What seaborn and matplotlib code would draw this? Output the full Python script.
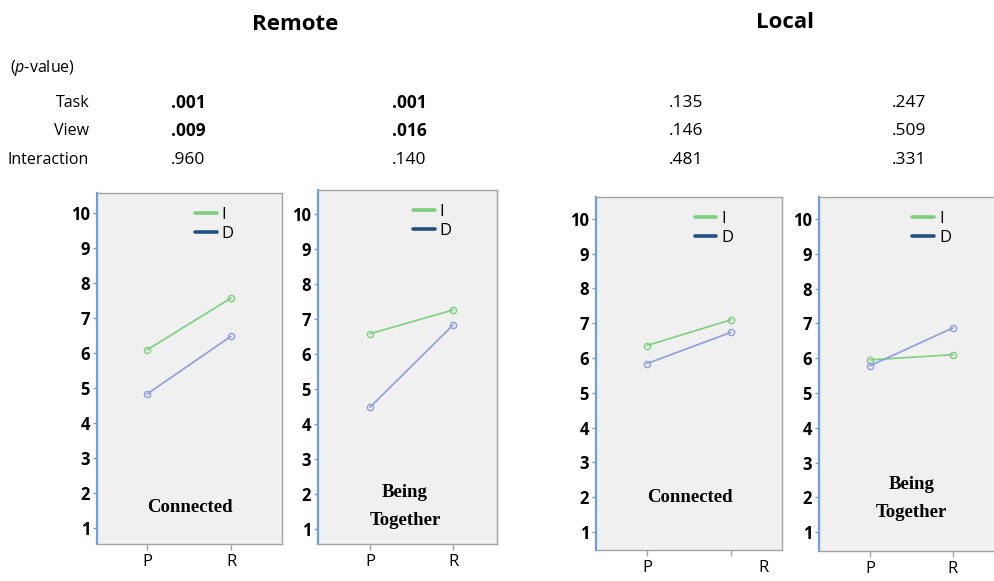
import pandas as pd
import numpy as np
import matplotlib
matplotlib.use("Agg")
import matplotlib.pyplot as plt
import matplotlib.transforms as mtransforms
from matplotlib.lines import Line2D
import seaborn as sns

sns.set_theme(style="white")
plt.rcParams['font.family'] = ['Open Sans', 'DejaVu Sans']
plt.rcParams['text.color'] = 'black'
plt.rcParams['xtick.labelcolor'] = 'black'
plt.rcParams['ytick.labelcolor'] = 'black'
plt.rcParams['mathtext.fontset'] = 'custom'
plt.rcParams['mathtext.rm'] = 'Open Sans'
plt.rcParams['mathtext.it'] = 'Open Sans:italic'

# ===================== data =====================
conditions = ['Remote', 'Local']
panel_labels = ['Connected', 'Being\nTogether', 'Connected', 'Being\nTogether']
views = ['P', 'R']
groups = ['I', 'D']
score_I = [[6.08, 7.56], [6.58, 7.26], [6.36, 7.10], [5.95, 6.10]]
score_D = [[4.82, 6.47], [4.48, 6.83], [5.84, 6.74], [5.78, 6.87]]

row_names = ['Task', 'View', 'Interaction']
p_task = ['.001', '.001', '.135', '.247']
p_view = ['.009', '.016', '.146', '.509']
p_inter = ['.960', '.140', '.481', '.331']

# ===================== style =====================
W, H = 995, 581
green = '#7ccf7c'
lavender = '#8c9fda'
navy = '#24507f'
face = '#f0f0f0'
frame = '#a3a3a3'
spine_blue = '#6f9fd8'

# axes boxes in pixels: x0, x1, ytop, ybottom
boxes = [(97, 282, 193, 544), (318, 497, 190, 544),
         (596, 782, 197, 550), (819, 995, 197, 551)]
ylims = [(0.54, 10.56), (0.57, 10.69), (0.48, 10.63), (0.46, 10.63)]
xlims = [(-0.595, 1.607), (-0.627, 1.53), (-0.607, 1.607), (-0.614, 1.506)]
label_pos = [(0.503, 0.105), (0.486, 0.105), (0.505, 0.150), (0.528, 0.147)]
col_x = [188, 409, 686, 909]

fig = plt.figure(figsize=(W / 100, H / 100), dpi=100)

for i in range(4):
    x0, x1, yt, yb = boxes[i]
    ax = fig.add_axes([x0 / W, 1 - yb / H, (x1 - x0) / W, (yb - yt) / H])
    df = pd.DataFrame({
        'view': views * 2,
        'score': score_I[i] + score_D[i],
        'group': [groups[0]] * 2 + [groups[1]] * 2,
    })
    sns.lineplot(data=df, x='view', y='score', hue='group',
                 palette={'I': green, 'D': lavender}, marker='o',
                 markersize=4.5, linewidth=1.2, legend=False, ax=ax)
    for ln in ax.lines:
        ln.set_markerfacecolor('none')
        ln.set_markeredgecolor(ln.get_color())
        ln.set_markeredgewidth(1.0)

    ax.set_facecolor(face)
    ax.set_xlim(*xlims[i])
    ax.set_ylim(*ylims[i])
    ax.set_yticks(range(1, 11))
    ax.set_xlabel('')
    ax.set_ylabel('')
    for s in ['top', 'right', 'bottom']:
        ax.spines[s].set_color(frame)
        ax.spines[s].set_linewidth(1.0)
    ax.spines['left'].set_color(spine_blue)
    ax.spines['left'].set_linewidth(1.6)
    if i == 3:
        ax.spines['right'].set_visible(False)

    ax.tick_params(axis='y', left=True, direction='out', length=3, width=1,
                   color=spine_blue, labelsize=12, pad=2)
    ax.tick_params(axis='x', bottom=True, direction='out', length=4, width=1,
                   color=frame, labelsize=12, pad=3)
    for lab in ax.get_yticklabels():
        lab.set_fontweight('bold')
    # the R label of the local/connected panel sits off its tick
    if i == 2:
        lab = ax.get_xticklabels()[1]
        lab.set_transform(lab.get_transform() + mtransforms.ScaledTranslation(
            0.32, 0, fig.dpi_scale_trans))

    handles = [Line2D([], [], color=green, lw=2.6),
               Line2D([], [], color=navy, lw=2.6)]
    ax.legend(handles=handles, labels=groups, loc='upper left',
              bbox_to_anchor=(0.53, 0.96), frameon=False, fontsize=12,
              handlelength=1.3, handletextpad=0.3, labelspacing=0.15,
              borderpad=0, borderaxespad=0)

    ax.text(label_pos[i][0], label_pos[i][1], panel_labels[i],
            transform=ax.transAxes, ha='center', va='center',
            family='Liberation Serif', fontweight='bold', fontsize=13.5,
            linespacing=1.85)

# ===================== header / p-value table =====================
fig.text(295 / W, 1 - 25 / H, conditions[0], ha='center', va='center',
         fontsize=16, fontweight='bold')
fig.text(785 / W, 1 - 22 / H, conditions[1], ha='center', va='center',
         fontsize=16, fontweight='bold')
fig.text(10 / W, 1 - 68 / H, '($\\it{p}$-value)', ha='left', va='center',
         fontsize=11.5)

rows_y = [103, 131, 160]
p_rows = [p_task, p_view, p_inter]
for r in range(3):
    fig.text(89 / W, 1 - rows_y[r] / H, row_names[r], ha='right',
             va='center', fontsize=11.5)
    for c in range(4):
        val = p_rows[r][c]
        fig.text(col_x[c] / W, 1 - rows_y[r] / H, val, ha='center',
                 va='center', fontsize=12.5,
                 fontweight='bold' if float(val) < 0.05 else 'normal')

fig.savefig('out.png', dpi=100)
